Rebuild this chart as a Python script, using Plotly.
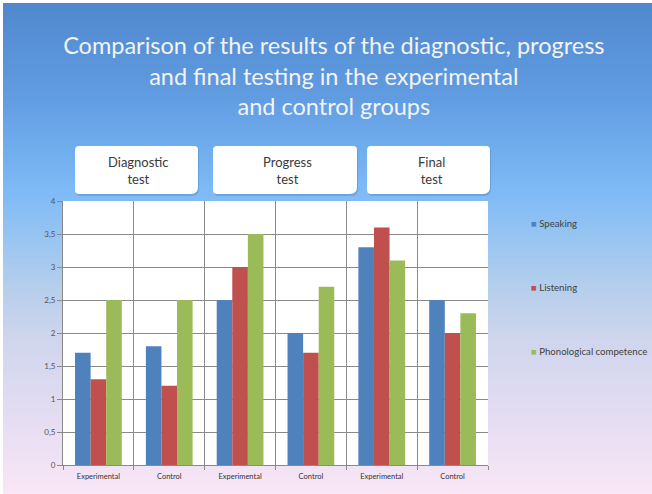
import plotly.graph_objects as go

# ---------------- data ----------------
tests = ["Diagnostic", "Progress", "Final"]
groups = ["Experimental", "Control"]
series_names = ["Speaking", "Listening", "Phonological competence"]
speaking = [1.7, 1.8, 2.5, 2.0, 3.3, 2.5]
listening = [1.3, 1.2, 3.0, 1.7, 3.6, 2.0]
phonological = [2.5, 2.5, 3.5, 2.7, 3.1, 2.3]
header_labels = ["Diagnostic<br>test", "Progress<br>test", "Final<br>test"]
y_ticks = [0, 0.5, 1, 1.5, 2, 2.5, 3, 3.5, 4]
y_tick_labels = ["0", "0,5", "1", "1,5", "2", "2,5", "3", "3,5", "4"]

colors = ["#4f81bd", "#c0504d", "#9bbb59"]
x_ids = [f"{t}|{g}" for t in tests for g in groups]
x_labels = [g for t in tests for g in groups]

W, H = 652, 494
PL, PR, PT, PB = 63, 488, 201, 465  # plot area in pixels


def px(x):
    return (x - PL) / (PR - PL)


def py(y):
    return (PB - y) / (PB - PT)


fig = go.Figure()
for name, vals, col in zip(series_names, [speaking, listening, phonological], colors):
    fig.add_trace(go.Bar(x=x_ids, y=vals, name=name, marker=dict(color=col, line=dict(width=0)),
                         showlegend=False))

shapes = []
# background gradient
stops = [(0, (80, 135, 205)), (100, (97, 157, 226)), (190, (125, 186, 246)),
         (235, (150, 196, 241)), (285, (180, 206, 236)), (335, (205, 213, 236)),
         (430, (232, 222, 243)), (494, (249, 230, 246))]


def grad(y):
    for (y0, c0), (y1, c1) in zip(stops[:-1], stops[1:]):
        if y0 <= y <= y1:
            t = (y - y0) / (y1 - y0)
            return "rgb(%d,%d,%d)" % tuple(round(a + (b - a) * t) for a, b in zip(c0, c1))
    return "rgb(%d,%d,%d)" % stops[-1][1]


step = 3
y = 3
while y < H:
    shapes.append(dict(type="rect", xref="paper", yref="paper", layer="below",
                       x0=px(3), x1=px(W + 2), y0=py(y), y1=py(min(y + step + 1, H + 2)),
                       line=dict(width=0), fillcolor=grad(y + step / 2)))
    y += step

# white plot area
shapes.append(dict(type="rect", xref="paper", yref="paper", layer="below",
                   x0=0, x1=1, y0=0, y1=1, line=dict(width=0), fillcolor="white"))

# header boxes
boxes = [(75, 198), (213, 357), (367, 490)]
by0, by1 = 146, 194


def box_path(x0, x1, y0, y1, r=4, c=7):
    X0, X1 = px(x0), px(x1)
    Y0, Y1 = py(y0), py(y1)
    rx, ry = r / (PR - PL), r / (PB - PT)
    cx, cy = c / (PR - PL), c / (PB - PT)
    return (f"M{X0+rx},{Y0} L{X1-rx},{Y0} Q{X1},{Y0} {X1},{Y0-ry} "
            f"L{X1},{Y1+cy} Q{X1},{Y1} {X1-cx},{Y1} "
            f"L{X0+rx},{Y1} Q{X0},{Y1} {X0},{Y1+ry} L{X0},{Y0-ry} Q{X0},{Y0} {X0+rx},{Y0} Z")


for (x0, x1) in boxes:
    shapes.append(dict(type="path", xref="paper", yref="paper", layer="above",
                       path=box_path(x0 + 1, x1 + 1, by0 + 2, by1 + 2),
                       line=dict(width=0), fillcolor="rgba(60,90,140,0.25)"))
    shapes.append(dict(type="path", xref="paper", yref="paper", layer="above",
                       path=box_path(x0, x1, by0, by1),
                       line=dict(width=0), fillcolor="white"))

annotations = []
centers = [138, 287, 431]
for lab, cx in zip(header_labels, centers):
    annotations.append(dict(text=lab, xref="paper", yref="paper", x=px(cx), y=py(170),
                            xanchor="center", yanchor="middle", showarrow=False,
                            font=dict(family="Lato, sans-serif", size=13, color="#3a3a3a")))

# legend (drawn as text)
leg_y = [223, 287, 351]
for name, col, ly in zip(series_names, colors, leg_y):
    annotations.append(dict(text=f"<span style='color:{col}'>■</span> {name}",
                            xref="paper", yref="paper", x=px(529), y=py(ly),
                            xanchor="left", yanchor="middle", showarrow=False,
                            font=dict(family="Lato, sans-serif", size=9.6, color="#404040")))

fig.update_layout(
    width=W, height=H,
    margin=dict(l=PL, r=W - PR, t=PT, b=H - PB, pad=0),
    paper_bgcolor="white", plot_bgcolor="white",
    barmode="group", bargap=0.34, bargroupgap=0,
    title=dict(text="Comparison of the results of the diagnostic, progress<br>"
                    "and final testing in the experimental<br>and control groups",
               x=0.512, xanchor="center", y=1 - 54 / H, yanchor="top", yref="container",
               font=dict(family="Lato, sans-serif", size=23.5, color="#f3f3f3")),
    shapes=shapes,
    annotations=annotations,
    showlegend=False,
    xaxis=dict(type="category", tickmode="array", tickvals=x_ids, ticktext=x_labels,
               tickson="boundaries", showgrid=True, gridcolor="#8a8a8a", gridwidth=1,
               showline=True, linecolor="#8a8a8a", ticks="outside", ticklen=4,
               tickcolor="#8a8a8a", ticklabelstandoff=4,
               tickfont=dict(family="Lato, sans-serif", size=7.5, color="#333333"),
               automargin=False, fixedrange=True),
    yaxis=dict(range=[0, 4], tickmode="array", tickvals=y_ticks, ticktext=y_tick_labels,
               showgrid=True, gridcolor="#8a8a8a", gridwidth=1, showline=True,
               linecolor="#8a8a8a", ticks="outside", ticklen=5, tickcolor="#8a8a8a",
               zeroline=False, ticklabelstandoff=0,
               tickfont=dict(family="Lato, sans-serif", size=8, color="#555555"),
               automargin=False, fixedrange=True),
)

fig.write_html("out.html", config={"displayModeBar": False},
               post_script="document.body.style.margin='0';")
